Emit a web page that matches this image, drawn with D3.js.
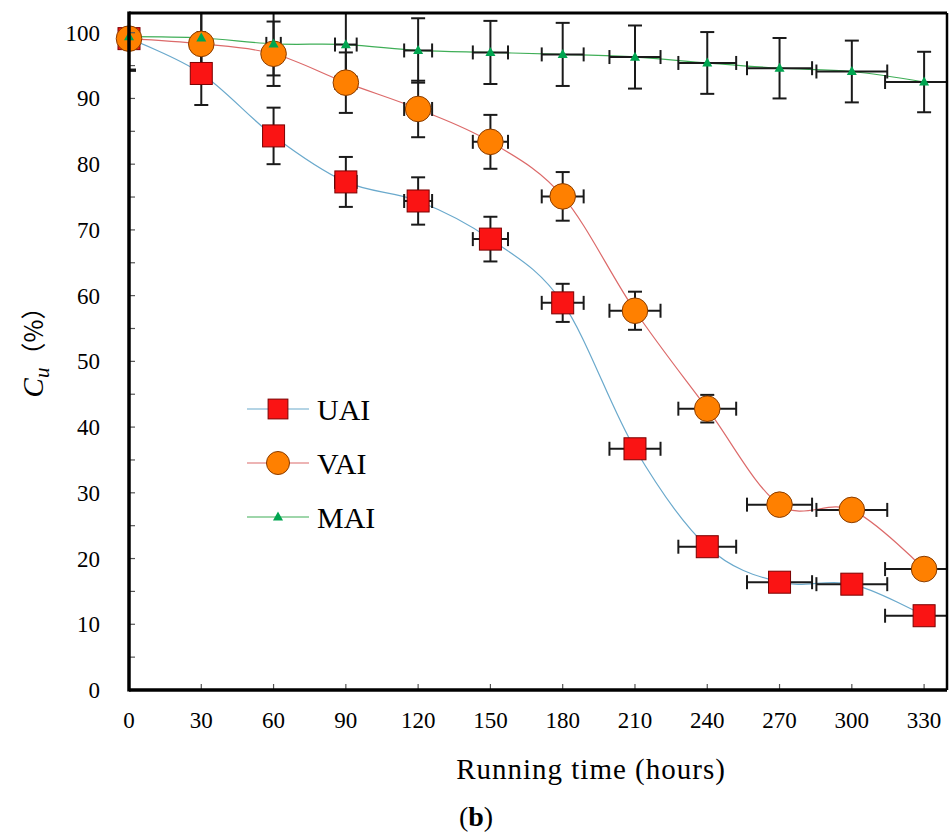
<!DOCTYPE html>
<html><head><meta charset="utf-8">
<script src="https://cdn.jsdelivr.net/npm/d3@7"></script>
<style>
html,body{margin:0;padding:0;background:#fff;}
svg{display:block;}
text{font-family:"Liberation Serif","Times New Roman",serif;fill:#000;}
</style></head>
<body>
<svg id="chart" width="949" height="834"></svg>
<script>
// ---- data ----
const hours = [0, 30, 60, 90, 120, 150, 180, 210, 240, 270, 300, 330];
const uai   = [99.1, 93.8, 84.3, 77.3, 74.4, 68.6, 58.9, 36.7, 21.8, 16.4, 16.1, 11.3];
const uaiErr = [4.9, 4.8, 4.3, 3.8, 3.6, 3.4, 2.9, 1.2, 0.8, 0.6, 0.6, 0.5];
const vai   = [99.1, 98.3, 96.8, 92.4, 88.4, 83.4, 75.1, 57.7, 42.8, 28.2, 27.4, 18.4];
const vaiErr = [4.8, 5.0, 4.9, 4.6, 4.3, 4.1, 3.7, 2.9, 2.1, 1.0, 1.0, 1.0];
const mai   = [99.4, 99.2, 98.3, 98.2, 97.3, 97.0, 96.7, 96.3, 95.4, 94.6, 94.1, 92.5];
const maiErr = [5.0, 5.2, 4.8, 5.2, 4.9, 4.8, 4.8, 4.8, 4.7, 4.6, 4.7, 4.6];
const timeErr = [0, 1.5, 3.0, 4.5, 5.8, 7.3, 8.7, 10.6, 12.0, 13.5, 14.7, 16.2];
const xTicks = [0, 30, 60, 90, 120, 150, 180, 210, 240, 270, 300, 330];
const yLabelTicks = [0, 10, 20, 30, 40, 50, 60, 70, 80, 90, 100];
const yMinorTicks = [0, 5, 10, 15, 20, 25, 30, 35, 40, 45, 50, 55, 60, 65, 70, 75, 80, 85, 90, 95, 100];
const seriesNames = ["UAI", "VAI", "MAI"];

(function () {
const svg = d3.select("#chart");
const pL = 129, pR = 947, pT = 13, pB = 690;
const x = d3.scaleLinear().domain([0, 339.5]).range([pL, pR]);
const y = d3.scaleLinear().domain([0, 103]).range([pB, pT]);

svg.append("defs").append("clipPath").attr("id", "clip")
  .append("rect").attr("x", pL).attr("y", pT).attr("width", pR - pL).attr("height", pB - pT);

const series = [
  {name: "UAI", vals: uai, err: uaiErr, line: "#6aa9cc", fill: "#fa1414", stroke: "#7a0000", shape: "square"},
  {name: "VAI", vals: vai, err: vaiErr, line: "#dc6a6a", fill: "#ff8000", stroke: "#8a3c00", shape: "circle"},
  {name: "MAI", vals: mai, err: maiErr, line: "#3fae57", fill: "#00a550", stroke: "none", shape: "triangle"}
];

const plot = svg.append("g").attr("clip-path", "url(#clip)");

// lines
const lineGen = d3.line().x(d => x(d[0])).y(d => y(d[1])).curve(d3.curveCardinal.tension(0));
series.forEach(s => {
  plot.append("path").datum(hours.map((h, i) => [h, s.vals[i]]))
    .attr("d", lineGen).attr("fill", "none").attr("stroke", s.line).attr("stroke-width", 1.2);
});

// error bars
const cap = 7;
const eb = plot.append("g").attr("stroke", "#1a1a1a").attr("stroke-width", 2).attr("fill", "none");
series.forEach(s => {
  hours.forEach((h, i) => {
    const cx = x(h), cy = y(s.vals[i]);
    const y1 = y(s.vals[i] + s.err[i]), y2 = y(s.vals[i] - s.err[i]);
    eb.append("line").attr("x1", cx).attr("x2", cx).attr("y1", y1).attr("y2", y2);
    eb.append("line").attr("x1", cx - cap).attr("x2", cx + cap).attr("y1", y1).attr("y2", y1);
    eb.append("line").attr("x1", cx - cap).attr("x2", cx + cap).attr("y1", y2).attr("y2", y2);
    if (timeErr[i] > 0) {
      const x1 = x(h - timeErr[i]), x2 = x(h + timeErr[i]);
      eb.append("line").attr("x1", x1).attr("x2", x2).attr("y1", cy).attr("y2", cy);
      eb.append("line").attr("x1", x1).attr("x2", x1).attr("y1", cy - cap).attr("y2", cy + cap);
      eb.append("line").attr("x1", x2).attr("x2", x2).attr("y1", cy - cap).attr("y2", cy + cap);
    }
  });
});

function drawMarker(g, s, cx, cy, scale) {
  if (s.shape === "square") {
    const a = 22 * scale;
    g.append("rect").attr("x", cx - a / 2).attr("y", cy - a / 2).attr("width", a).attr("height", a)
      .attr("fill", s.fill).attr("stroke", s.stroke).attr("stroke-width", 1);
  } else if (s.shape === "circle") {
    g.append("circle").attr("cx", cx).attr("cy", cy).attr("r", 12.8 * scale)
      .attr("fill", s.fill).attr("stroke", s.stroke).attr("stroke-width", 1);
  } else {
    const w = 10, h = 9;
    g.append("path").attr("d", `M${cx},${cy - h * 0.6}L${cx + w / 2},${cy + h * 0.4}L${cx - w / 2},${cy + h * 0.4}Z`)
      .attr("fill", s.fill);
  }
}

// markers
const mk = svg.append("g");
series.forEach(s => {
  hours.forEach((h, i) => drawMarker(mk, s, x(h), y(s.vals[i]), 1));
});

// ticks (inward)
const tg = svg.append("g").attr("stroke", "#555").attr("stroke-width", 1.2);
yMinorTicks.forEach(v => {
  tg.append("line").attr("x1", pL).attr("x2", pL + 6).attr("y1", y(v)).attr("y2", y(v));
});
xTicks.forEach(v => {
  tg.append("line").attr("x1", x(v)).attr("x2", x(v)).attr("y1", pB).attr("y2", pB - 6);
});

// frame
const fr = svg.append("g").attr("stroke", "#000").attr("fill", "none");
fr.append("line").attr("x1", pL).attr("x2", pR).attr("y1", pT).attr("y2", pT).attr("stroke-width", 3);
fr.append("line").attr("x1", pR).attr("x2", pR).attr("y1", pT).attr("y2", pB).attr("stroke-width", 2.5);
fr.append("line").attr("x1", pL).attr("x2", pL).attr("y1", pT - 1.5).attr("y2", pB + 1.5).attr("stroke-width", 3.5);
fr.append("line").attr("x1", pL).attr("x2", pR).attr("y1", pB).attr("y2", pB).attr("stroke-width", 3.5);

// tick labels
yLabelTicks.forEach(v => {
  svg.append("text").attr("x", 100).attr("y", y(v)).attr("dy", "0.35em")
    .attr("text-anchor", "end").attr("font-size", 23).text(v);
});
xTicks.forEach(v => {
  svg.append("text").attr("x", x(v)).attr("y", 728)
    .attr("text-anchor", "middle").attr("font-size", 23).text(v);
});

// axis titles
svg.append("text").attr("x", 591).attr("y", 779).attr("text-anchor", "middle")
  .attr("font-size", 29).attr("letter-spacing", 1).text("Running time (hours)");
const bt = svg.append("text").attr("x", 476).attr("y", 826).attr("text-anchor", "middle").attr("font-size", 28);
bt.append("tspan").text("(");
bt.append("tspan").attr("font-weight", "bold").text("b");
bt.append("tspan").text(")");

const yt = svg.append("text").attr("transform", "translate(43,346) rotate(-90)")
  .attr("text-anchor", "middle").attr("font-size", 29);
yt.append("tspan").attr("font-style", "italic").text("C");
yt.append("tspan").attr("font-style", "italic").attr("font-size", 21).attr("dy", 6).text("u");
yt.append("tspan").attr("dy", -6).attr("font-family", "'Noto Sans CJK SC'").attr("font-size", 25).text("（%）");

// legend
const legY = [409, 463, 517];
series.forEach((s, i) => {
  const g = svg.append("g");
  g.append("line").attr("x1", 247).attr("x2", 309).attr("y1", legY[i]).attr("y2", legY[i])
    .attr("stroke", s.line).attr("stroke-width", 1.2);
  drawMarker(g, s, 278, legY[i], 0.9);
  g.append("text").attr("x", 317).attr("y", legY[i]).attr("dy", "0.35em")
    .attr("font-size", 30).text(seriesNames[i]);
});
})();
</script>
</body></html>
